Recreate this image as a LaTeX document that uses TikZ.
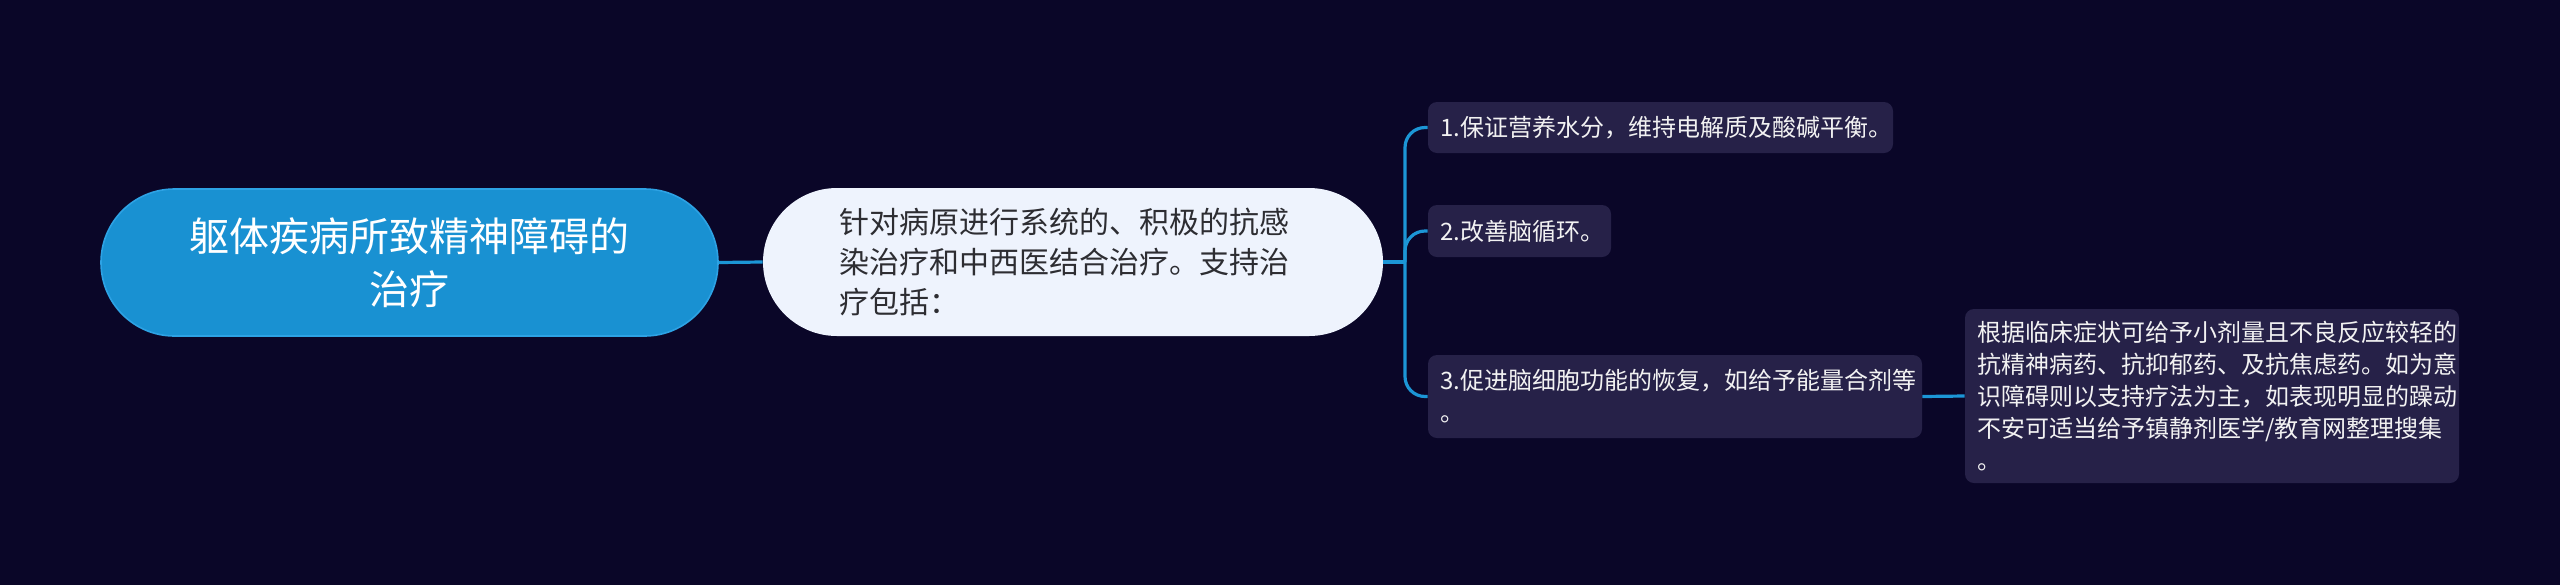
\documentclass[tikz,border=0pt]{standalone}
\usepackage{fontspec}
\setmainfont{Noto Sans CJK SC}
\usepackage{xcolor}
\definecolor{bgcol}{RGB}{10,6,40}
\definecolor{rootcol}{RGB}{25,145,210}
\definecolor{rootline}{RGB}{45,162,228}
\definecolor{maincol}{RGB}{238,243,253}
\definecolor{maintext}{RGB}{45,45,50}
\definecolor{leafcol}{RGB}{38,33,72}
\definecolor{linkcol}{RGB}{28,150,214}
\tikzset{
  rootbox/.style = {fill=rootcol, draw=rootline, line width=0.8pt,
                    rounded corners=36.7pt, minimum width=308.5pt,
                    minimum height=73.5pt, align=center, text=white,
                    font=\fontsize{20pt}{26.5pt}\selectfont},
  mainbox/.style = {fill=maincol, rounded corners=37pt,
                    inner xsep=38pt, text width=234pt,
                    minimum height=74pt, align=left, text=maintext,
                    font=\fontsize{15pt}{20pt}\selectfont},
  leafbox/.style = {fill=leafcol, rounded corners=4.5pt,
                    inner xsep=6pt, text width=#1, align=left,
                    text=white!95!black,
                    font=\fontsize{12pt}{16pt}\selectfont},
  link/.style = {draw=linkcol, line width=1.6pt}
}

\begin{document}
\begin{tikzpicture}[x=0.5pt,y=-0.5pt]
	% Background
	\fill[bgcol] (0,0) rectangle (2560,585);
	\useasboundingbox (0,0) rectangle (2560,585);

	% Root and main topic
	\node[rootbox] (root) at (409.5,262.5) {躯体疾病所致精神障碍的\\治疗};
	\node[mainbox] (main) at (1073,262) {针对病原进行系统的、积极的抗感\\染治疗和中西医结合治疗。支持治\\疗包括：};

	% Subtopics
	\node[leafbox=220.5pt, minimum height=25.5pt] (care) at (1660.5,127.5) {1.保证营养水分，维持电解质及酸碱平衡。};
	\node[leafbox=79.5pt, minimum height=26pt] (blood) at (1519.5,231) {2.改善脑循环。};
	\node[leafbox=235pt, minimum height=41.5pt] (cell) at (1675,396.5) {3.促进脑细胞功能的恢复，如给予能量合剂等\\。};
	\node[leafbox=235pt, minimum height=87pt] (drug) at (2212,396) {根据临床症状可给予小剂量且不良反应较轻的\\抗精神病药、抗抑郁药、及抗焦虑药。如为意\\识障碍则以支持疗法为主，如表现明显的躁动\\不安可适当给予镇静剂医学/教育网整理搜集\\。};

	% Links
	\coordinate (hub) at (1405,262);
	\draw[link] (root.east) -- (main.west);
	\draw[link] (main.east) -- (hub);
	\draw[link, rounded corners=10pt] (hub) |- (care.west);
	\draw[link, rounded corners=10pt] (hub) |- (blood.west);
	\draw[link, rounded corners=10pt] (hub) |- (cell.west);
	\draw[link] (cell.east) -- (drug.west);
\end{tikzpicture}
\end{document}
